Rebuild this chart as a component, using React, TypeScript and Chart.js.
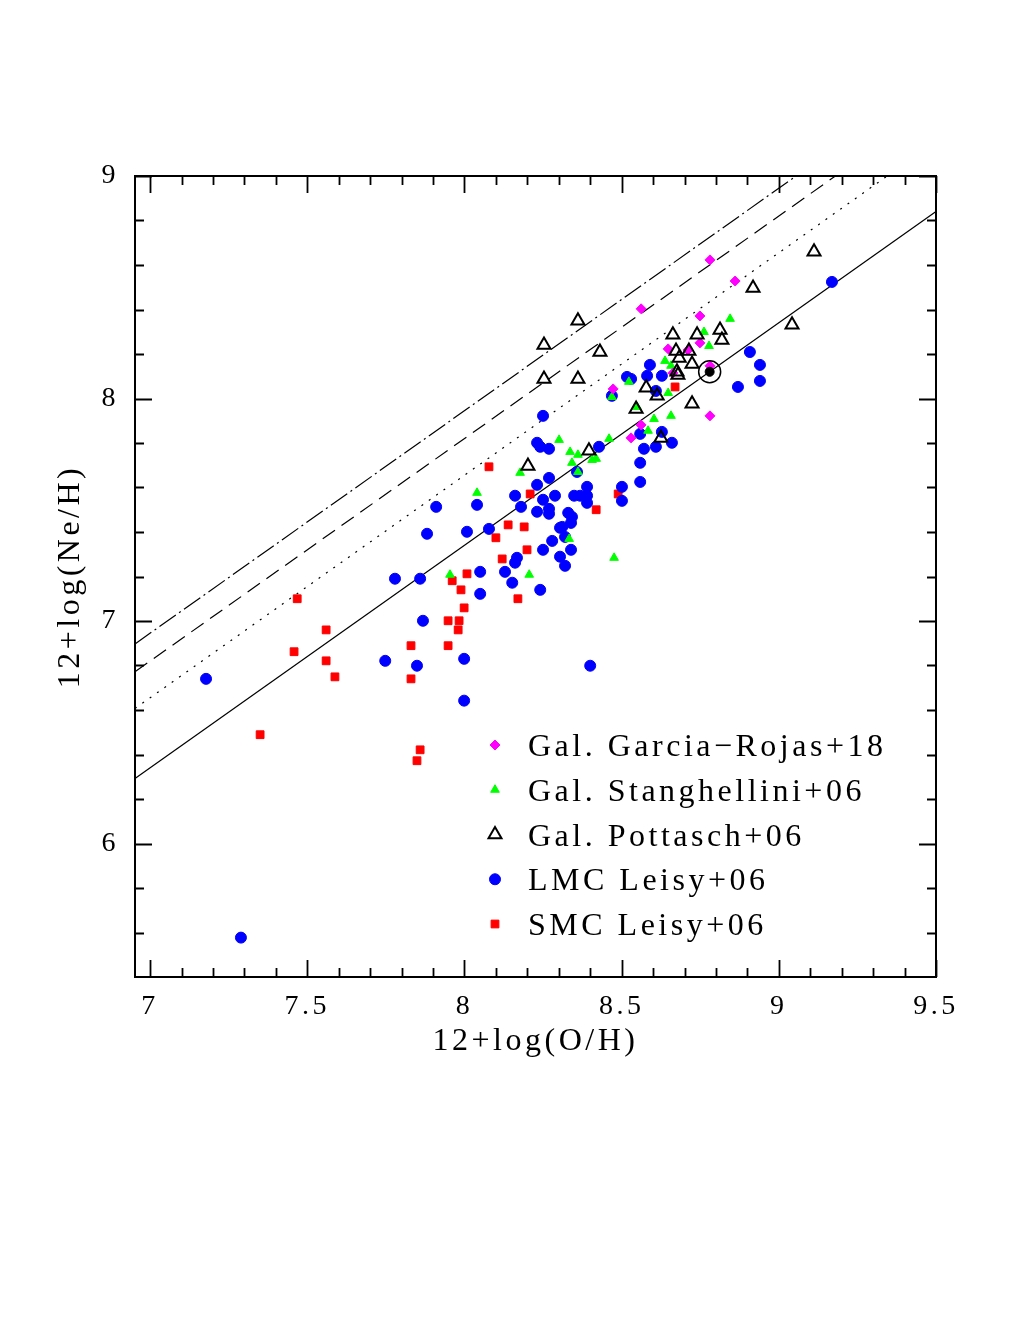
import React, { useEffect, useRef } from "react";
import { Chart, registerables } from "chart.js";
import { drawPoint } from "chart.js/helpers";

Chart.register(...registerables);

const FONT = '"Liberation Serif", "Times New Roman", serif';

const xTickValues = [7, 7.5, 8, 8.5, 9, 9.5];
const yTickValues = [6, 7, 8, 9];
const xTitle = "12+log(O/H)";
const yTitle = "12+log(Ne/H)";

const legendLabels = [
  "Gal. Garcia\u2212Rojas+18",
  "Gal. Stanghellini+06",
  "Gal. Pottasch+06",
  "LMC Leisy+06",
  "SMC Leisy+06",
];

const garciaOH = [8.781, 8.861, 8.562, 8.749, 8.648, 8.711, 8.749, 8.473, 8.663, 8.781, 8.781, 8.562, 8.53];
const garciaNeH = [8.623, 8.528, 8.403, 8.371, 8.223, 8.218, 8.25, 8.043, 8.115, 8.147, 7.922, 7.881, 7.823];

const stangOH = [7.954, 8.206, 8.04, 8.177, 8.301, 8.336, 8.361, 8.342, 8.361, 8.406, 8.419, 8.46, 8.549, 8.603, 8.657, 8.584, 8.333, 8.476, 8.762, 8.778, 8.845, 8.638, 8.657, 8.523, 8.469, 8.648];
const stangNeH = [7.208, 7.208, 7.576, 7.666, 7.814, 7.76, 7.747, 7.711, 7.67, 7.724, 7.729, 7.819, 7.962, 7.908, 7.922, 7.855, 7.369, 7.284, 8.299, 8.236, 8.358, 8.169, 8.147, 8.075, 8.007, 8.025];

const pottaschOH = [8.361, 8.253, 8.431, 8.253, 8.361, 8.663, 8.74, 8.813, 8.819, 8.673, 8.714, 8.683, 8.724, 8.676, 8.679, 8.578, 8.613, 8.546, 8.724, 8.625, 9.112, 8.918, 9.042, 8.202, 8.396];
const pottaschNeH = [8.349, 8.241, 8.209, 8.088, 8.088, 8.286, 8.286, 8.308, 8.263, 8.214, 8.214, 8.182, 8.155, 8.12, 8.106, 8.048, 8.012, 7.953, 7.976, 7.823, 8.659, 8.497, 8.331, 7.697, 7.765];

const lmcOH = [7.178, 7.289, 7.779, 7.748, 7.859, 7.868, 7.849, 7.999, 7.999, 7.881, 7.91, 8.008, 8.04, 8.078, 8.05, 8.05, 8.129, 8.152, 8.161, 8.167, 8.241, 8.25, 8.279, 8.304, 8.304, 8.32, 8.4, 8.25, 8.231, 8.241, 8.269, 8.231, 8.269, 8.161, 8.25, 8.288, 8.18, 8.231, 8.269, 8.269, 8.349, 8.368, 8.39, 8.39, 8.39, 8.33, 8.342, 8.339, 8.311, 8.32, 8.339, 8.428, 8.358, 8.501, 8.501, 8.559, 8.559, 8.571, 8.559, 8.609, 8.628, 8.66, 8.59, 8.581, 8.628, 8.609, 8.469, 8.517, 8.53, 9.169, 8.908, 8.94, 8.94, 8.87];
const lmcNeH = [6.74, 5.577, 7.19, 6.821, 7.19, 7.001, 6.799, 6.83, 6.642, 7.392, 7.513, 7.401, 7.522, 7.414, 7.221, 7.122, 7.221, 7.172, 7.262, 7.284, 7.14, 7.32, 7.36, 7.289, 7.419, 7.248, 6.799, 7.922, 7.801, 7.783, 7.774, 7.612, 7.643, 7.563, 7.545, 7.563, 7.513, 7.491, 7.504, 7.482, 7.563, 7.563, 7.603, 7.563, 7.531, 7.486, 7.468, 7.441, 7.423, 7.378, 7.32, 7.783, 7.67, 7.603, 7.54, 7.711, 7.625, 7.774, 7.841, 7.783, 7.85, 7.801, 8.151, 8.102, 8.102, 8.034, 8.012, 8.097, 8.088, 8.524, 8.209, 8.151, 8.079, 8.052];

const smcOH = [7.468, 7.458, 7.56, 7.56, 7.588, 7.35, 7.83, 7.83, 7.859, 7.849, 7.961, 7.948, 7.983, 7.98, 7.948, 7.989, 8.008, 7.999, 8.078, 8.1, 8.12, 8.139, 8.19, 8.199, 8.17, 8.209, 8.419, 8.489, 8.67];
const smcNeH = [7.1, 6.862, 6.96, 6.821, 6.749, 6.489, 6.889, 6.74, 6.421, 6.372, 7.181, 7.001, 7.001, 6.96, 6.889, 7.14, 7.212, 7.059, 7.693, 7.374, 7.279, 7.432, 7.423, 7.32, 7.1, 7.571, 7.5, 7.571, 8.052];

const sunOH = [8.78];
const sunNeH = [8.12];

// log(Ne/O) relations drawn as straight lines of slope 1
const lineOffsets = [-0.66, -0.345, -0.18, -0.055];
const lineDashes = [[], [2, 7], [15, 8], [20, 4, 2, 4]];

const X_MIN = 6.952;
const X_MAX = 9.5;
const Y_MIN = 5.4;
const Y_MAX = 9;

const toPts = (xs: number[], ys: number[]) => xs.map((x, i) => ({ x, y: ys[i] }));

const spacingPlugin = {
  id: "spacing",
  beforeDraw(chart: any) {
    chart.ctx.letterSpacing = "3.5px";
  },
};

const framePlugin = {
  id: "frame",
  afterDraw(chart: any) {
    const { ctx, chartArea: a, scales } = chart;
    const x = scales.x;
    const y = scales.y;
    ctx.save();
    ctx.strokeStyle = "#000";
    ctx.lineWidth = 2;
    ctx.strokeRect(a.left, a.top, a.right - a.left, a.bottom - a.top);
    ctx.lineWidth = 1.8;
    ctx.beginPath();
    for (let i = 0; i <= 25; i++) {
      const v = 7 + i * 0.1;
      const major = i % 5 === 0;
      const len = major ? 17 : 9;
      const px = Math.round(x.getPixelForValue(v)) + 0.5;
      ctx.moveTo(px, a.bottom);
      ctx.lineTo(px, a.bottom - len);
      ctx.moveTo(px, a.top);
      ctx.lineTo(px, a.top + len);
    }
    for (let i = 1; i <= 18; i++) {
      const v = 5.4 + i * 0.2;
      const major = Math.abs(v - Math.round(v)) < 1e-6;
      const len = major ? 17 : 9;
      const py = Math.round(y.getPixelForValue(v)) + 0.5;
      ctx.moveTo(a.left, py);
      ctx.lineTo(a.left + len, py);
      ctx.moveTo(a.right, py);
      ctx.lineTo(a.right - len, py);
    }
    ctx.stroke();
    ctx.restore();
  },
};

const legendPlugin = {
  id: "customLegend",
  afterDraw(chart: any, _args: any, opts: any) {
    const ctx = chart.ctx;
    ctx.save();
    ctx.letterSpacing = "3.5px";
    ctx.font = `32px ${FONT}`;
    ctx.textBaseline = "alphabetic";
    ctx.textAlign = "left";
    legendLabels.forEach((label, i) => {
      const ds: any = chart.data.datasets.find((d: any) => d.label === label);
      if (!ds) return;
      const yy = opts.y0 + i * opts.dy;
      ctx.save();
      ctx.fillStyle = ds.pointBackgroundColor;
      ctx.strokeStyle = ds.pointBorderColor;
      ctx.lineWidth = ds.pointBorderWidth;
      drawPoint(ctx, { pointStyle: ds.pointStyle, radius: ds.pointRadius, borderWidth: ds.pointBorderWidth, rotation: 0 } as any, opts.markerX, yy);
      ctx.restore();
      ctx.fillStyle = "#000";
      ctx.fillText(label, opts.textX, yy + 11);
    });
    ctx.restore();
  },
};

export default function App() {
  const ref = useRef<HTMLCanvasElement | null>(null);

  useEffect(() => {
    document.body.style.margin = "0";
    const canvas = ref.current;
    if (!canvas) return;

    const lineSets = lineOffsets.map((off, i) => ({
      type: "line" as const,
      label: "rel" + i,
      data: [
        { x: X_MIN, y: X_MIN + off },
        { x: X_MAX, y: X_MAX + off },
      ],
      borderColor: "#000",
      borderWidth: 1.2,
      borderDash: lineDashes[i],
      pointRadius: 0,
      fill: false,
      showLine: true,
      order: 20,
    }));

    const chart = new Chart(canvas, {
      type: "scatter",
      data: {
        datasets: [
          {
            label: "Sun ring",
            data: toPts(sunOH, sunNeH),
            pointStyle: "circle",
            pointRadius: 11,
            pointBackgroundColor: "rgba(0,0,0,0)",
            pointBorderColor: "#000",
            pointBorderWidth: 1.5,
            order: 1,
          },
          {
            label: "Sun",
            data: toPts(sunOH, sunNeH),
            pointStyle: "circle",
            pointRadius: 4.5,
            pointBackgroundColor: "#000",
            pointBorderColor: "#000",
            pointBorderWidth: 1,
            order: 2,
          },
          {
            label: legendLabels[2],
            data: toPts(pottaschOH, pottaschNeH),
            pointStyle: "triangle",
            pointRadius: 7.5,
            pointBackgroundColor: "rgba(0,0,0,0)",
            pointBorderColor: "#000",
            pointBorderWidth: 2,
            order: 3,
          },
          {
            label: legendLabels[0],
            data: toPts(garciaOH, garciaNeH),
            pointStyle: "rectRot",
            pointRadius: 5,
            pointBackgroundColor: "#ff00ff",
            pointBorderColor: "#ff00ff",
            pointBorderWidth: 1,
            order: 4,
          },
          {
            label: legendLabels[1],
            data: toPts(stangOH, stangNeH),
            pointStyle: "triangle",
            pointRadius: 5,
            pointBackgroundColor: "#00ff00",
            pointBorderColor: "#00ff00",
            pointBorderWidth: 1,
            order: 5,
          },
          {
            label: legendLabels[3],
            data: toPts(lmcOH, lmcNeH),
            pointStyle: "circle",
            pointRadius: 5.5,
            pointBackgroundColor: "#0000ff",
            pointBorderColor: "#0000ff",
            pointBorderWidth: 1,
            order: 6,
          },
          {
            label: legendLabels[4],
            data: toPts(smcOH, smcNeH),
            pointStyle: "rect",
            pointRadius: 5.5,
            pointBackgroundColor: "#ff0000",
            pointBorderColor: "#ff0000",
            pointBorderWidth: 1,
            order: 7,
          },
          ...lineSets,
        ] as any,
      },
      options: {
        responsive: false,
        animation: false,
        devicePixelRatio: 1,
        layout: { padding: { left: 0, top: 176, right: 84, bottom: 0 } },
        plugins: {
          legend: { display: false },
          tooltip: { enabled: false },
          customLegend: { markerX: 495, textX: 528, y0: 745, dy: 44.75 },
        } as any,
        scales: {
          x: {
            type: "linear",
            min: X_MIN,
            max: X_MAX,
            grid: { display: false },
            border: { display: false },
            ticks: {
              autoSkip: false,
              maxRotation: 0,
              padding: 5,
              color: "#000",
              font: { family: FONT, size: 28 },
              callback: (v: any) => String(v),
            },
            title: {
              display: true,
              text: xTitle,
              color: "#000",
              font: { family: FONT, size: 32 },
              padding: { top: 0, bottom: 259 },
            },
            afterBuildTicks: (s: any) => {
              s.ticks = xTickValues.map((v) => ({ value: v }));
            },
            afterFit: (s: any) => {
              s.height = 343;
            },
          },
          y: {
            type: "linear",
            min: Y_MIN,
            max: Y_MAX,
            grid: { display: false },
            border: { display: false },
            ticks: {
              autoSkip: false,
              padding: 8,
              color: "#000",
              font: { family: FONT, size: 28 },
              callback: (v: any) => String(v),
            },
            title: {
              display: true,
              text: yTitle,
              color: "#000",
              font: { family: FONT, size: 32 },
              padding: { top: 51, bottom: 0 },
            },
            afterBuildTicks: (s: any) => {
              s.ticks = yTickValues.map((v) => ({ value: v }));
            },
            afterFit: (s: any) => {
              s.width = 135;
            },
          },
        },
      },
      plugins: [spacingPlugin, framePlugin, legendPlugin],
    });

    return () => chart.destroy();
  }, []);

  return (
    <div style={{ position: "absolute", left: 0, top: 0, width: 1020, height: 1320, background: "#fff" }}>
      <canvas ref={ref} width={1020} height={1320} style={{ display: "block", width: 1020, height: 1320 }} />
    </div>
  );
}
